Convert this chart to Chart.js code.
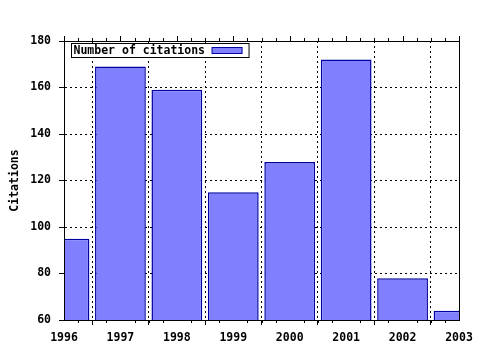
<!DOCTYPE html>
<html>
<head>
<meta charset="utf-8">
<script src="https://cdn.jsdelivr.net/npm/chart.js@4"></script>
<style>
  body { margin: 0; background: #fff; }
  canvas { display: block; }
</style>
</head>
<body>
<canvas id="citeChart" width="480" height="350"></canvas>
<script>
// data
var years = [1996, 1997, 1998, 1999, 2000, 2001, 2002, 2003];
var citations = [95, 169, 159, 115, 128, 172, 78, 64];
var seriesLabel = 'Number of citations';
var yTitle = 'Citations';

var monoFont = { family: '"DejaVu Sans Mono", "Liberation Mono", monospace', size: 11.5, weight: 'bold' };

// frame round the plot, minor ticks on x, legend box inside the plot
var gnuFrame = {
    id: 'gnuFrame',
    afterDraw: function (chart) {
        var ctx = chart.ctx;
        var a = chart.chartArea;
        var xs = chart.scales.x;
        ctx.save();
        ctx.strokeStyle = '#000';
        ctx.lineWidth = 1;
        ctx.strokeRect(Math.round(a.left) + 0.5, Math.round(a.top) + 0.5,
            Math.round(a.right - a.left), Math.round(a.bottom - a.top));

        // ticks on top border and minor ticks
        ctx.beginPath();
        for (var v = xs.min; v <= xs.max + 1e-9; v += 0.25) {
            var px = Math.round(xs.getPixelForValue(v)) + 0.5;
            var major = Math.abs(v - Math.round(v)) < 1e-9;
            var len = major ? 5 : 3;
            ctx.moveTo(px, a.top);
            ctx.lineTo(px, a.top - len);
            if (!major) {
                ctx.moveTo(px, a.bottom);
                ctx.lineTo(px, a.bottom + len);
            }
        }
        ctx.stroke();

        // legend
        var ds = chart.data.datasets[0];
        var lx = Math.round(a.left) + 7.5, ly = Math.round(a.top) + 2.5;
        ctx.font = 'bold 11.5px ' + monoFont.family;
        var tw = ctx.measureText(ds.label).width;
        var w = tw + 46, h = 14;
        ctx.fillStyle = '#fff';
        ctx.fillRect(lx, ly, w, h);
        ctx.strokeRect(lx, ly, w, h);
        ctx.fillStyle = '#000';
        ctx.textBaseline = 'middle';
        ctx.fillText(ds.label, lx + 2, ly + h / 2 + 1);
        ctx.fillStyle = ds.backgroundColor;
        ctx.strokeStyle = ds.borderColor;
        ctx.fillRect(lx + tw + 9, ly + 4, 30, 6);
        ctx.strokeRect(lx + tw + 9, ly + 4, 30, 6);
        ctx.restore();
    }
};

var ctx = document.getElementById('citeChart').getContext('2d');
var citeChart = new Chart(ctx, {
    type: 'bar',
    data: {
        datasets: [{
            label: seriesLabel,
            data: years.map(function (y, i) { return { x: y, y: citations[i] }; }),
            backgroundColor: '#8080ff',
            borderColor: '#0000a0',
            borderWidth: 1.5,
            borderSkipped: false,
            barPercentage: 0.9,
            categoryPercentage: 1.0
        }]
    },
    options: {
        responsive: false,
        animation: false,
        layout: { padding: { left: 0, right: 21, top: 41, bottom: 0 } },
        plugins: {
            legend: { display: false },
            tooltip: { enabled: false }
        },
        scales: {
            x: {
                type: 'linear',
                min: 1996,
                max: 2003,
                offset: false,
                ticks: {
                    stepSize: 1,
                    color: '#000',
                    font: monoFont,
                    maxRotation: 0,
                    padding: 6,
                    callback: function (v) { return String(v); }
                },
                grid: {
                    color: '#000',
                    lineWidth: 1,
                    tickLength: 5,
                    tickColor: '#000'
                },
                border: { display: true, color: '#000', dash: [2, 3] },
                afterFit: function (s) { s.height = 30; }
            },
            y: {
                min: 60,
                max: 180,
                ticks: {
                    stepSize: 20,
                    color: '#000',
                    font: monoFont,
                    padding: 8
                },
                grid: {
                    color: '#000',
                    lineWidth: 1,
                    tickLength: 5,
                    tickColor: '#000'
                },
                border: { display: true, color: '#000', dash: [2, 3] },
                title: {
                    display: true,
                    text: yTitle,
                    color: '#000',
                    font: monoFont,
                    padding: { top: 8, bottom: 0 }
                },
                afterFit: function (s) { s.width = 64; }
            }
        }
    },
    plugins: [gnuFrame]
});
</script>
</body>
</html>
